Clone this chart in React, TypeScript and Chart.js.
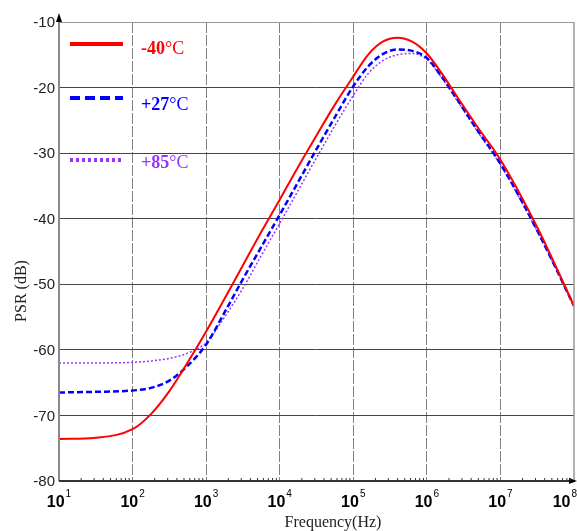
import React, { useEffect, useRef } from "react";
import { Chart, registerables } from "chart.js";

Chart.register(...registerables);

// log10 of frequency (Hz)
const logFreq = [1, 1.5, 2, 2.25, 2.5, 2.75, 3, 3.25, 3.5, 3.75, 4, 4.25, 4.5, 4.75, 5, 5.2, 5.4, 5.6, 5.8, 6, 6.2, 6.4, 6.7, 7, 7.5, 8];

const psrM40 = [-73.6, -73.4, -72.1, -69.8, -66.3, -61.9, -57.2, -52.2, -47.1, -42.0, -37.1, -32.1, -27.3, -22.6, -18.3, -15.0, -13.0, -12.4, -13.0, -14.8, -17.8, -21.2, -26.2, -31.0, -41.3, -53.3];
const psrP27 = [-66.5, -66.4, -66.2, -65.8, -64.7, -62.4, -59.2, -54.3, -49.2, -44.3, -39.4, -34.4, -29.4, -24.5, -19.8, -16.8, -14.9, -14.2, -14.4, -15.5, -18.3, -21.6, -26.7, -31.6, -41.8, -53.3];
const psrP85 = [-62.0, -62.0, -61.9, -61.7, -61.3, -60.5, -58.9, -55.0, -50.6, -45.6, -40.7, -35.7, -30.7, -25.8, -21.2, -17.9, -15.9, -15.0, -14.8, -15.7, -18.5, -21.8, -26.9, -31.8, -41.9, -53.3];

const seriesLabels = ["-40\u00b0C", "+27\u00b0C", "+85\u00b0C"];
const xTickExponents = [1, 2, 3, 4, 5, 6, 7, 8];
const yTicks = [-80, -70, -60, -50, -40, -30, -20, -10];

const RED = "#ff0000";
const BLUE = "#0000ff";
const PURPLE = "#9933ff";

const pts = (ys: number[]) => logFreq.map((x, i) => ({ x, y: ys[i] }));

const decorPlugin = {
  id: "decor",
  afterDraw(chart: any) {
    const ctx = chart.ctx as CanvasRenderingContext2D;
    const xs = chart.scales.x;
    const ys = chart.scales.y;
    const ca = chart.chartArea;
    ctx.save();

    // right border
    ctx.strokeStyle = "#999";
    ctx.lineWidth = 1.5;
    ctx.setLineDash([]);
    ctx.beginPath();
    ctx.moveTo(ca.right, ca.top);
    ctx.lineTo(ca.right, ca.bottom);
    ctx.stroke();

    // left axis
    ctx.strokeStyle = "#888";
    ctx.lineWidth = 2;
    ctx.beginPath();
    ctx.moveTo(ca.left, ca.bottom);
    ctx.lineTo(ca.left, ca.top - 6);
    ctx.stroke();
    ctx.fillStyle = "#000";
    ctx.beginPath();
    ctx.moveTo(ca.left, ca.top - 9);
    ctx.lineTo(ca.left - 3, ca.top);
    ctx.lineTo(ca.left + 3, ca.top);
    ctx.closePath();
    ctx.fill();

    // bottom axis
    ctx.strokeStyle = "#333";
    ctx.lineWidth = 2;
    ctx.beginPath();
    ctx.moveTo(ca.left, ca.bottom);
    ctx.lineTo(ca.right + 1, ca.bottom);
    ctx.stroke();
    ctx.fillStyle = "#000";
    ctx.beginPath();
    ctx.moveTo(ca.right + 3, ca.bottom);
    ctx.lineTo(ca.right - 5, ca.bottom - 3);
    ctx.lineTo(ca.right - 5, ca.bottom + 3);
    ctx.closePath();
    ctx.fill();
    // minor ticks
    ctx.strokeStyle = "#333";
    ctx.lineWidth = 1;
    for (let d = 1; d < 8; d++) {
      for (let m = 2; m <= 9; m++) {
        const px = xs.getPixelForValue(d + Math.log10(m));
        ctx.beginPath();
        ctx.moveTo(px, ca.bottom);
        ctx.lineTo(px, ca.bottom - 3);
        ctx.stroke();
      }
    }

    // y tick labels
    ctx.fillStyle = "#222";
    ctx.font = "15px 'Liberation Sans', Arial, sans-serif";
    ctx.textAlign = "right";
    ctx.textBaseline = "middle";
    yTicks.forEach((v) => {
      ctx.fillText(String(v), ca.left - 4, ys.getPixelForValue(v) + 1);
    });

    // x tick labels 10^n
    xTickExponents.forEach((e) => {
      const px = xs.getPixelForValue(e);
      ctx.font = "bold 16px 'Liberation Sans', Arial, sans-serif";
      const baseW = ctx.measureText("10").width;
      ctx.font = "10px 'Liberation Sans', Arial, sans-serif";
      const expW = ctx.measureText(String(e)).width;
      let start = px - (baseW + expW + 1) / 2;
      if (start + baseW + expW + 1 > 577) start = 577 - baseW - expW - 1;
      ctx.textAlign = "left";
      ctx.textBaseline = "alphabetic";
      ctx.fillStyle = "#000";
      ctx.font = "bold 16px 'Liberation Sans', Arial, sans-serif";
      ctx.fillText("10", start, ca.bottom + 26);
      ctx.font = "10px 'Liberation Sans', Arial, sans-serif";
      ctx.fillText(String(e), start + baseW + 1, ca.bottom + 16);
    });

    // axis titles
    ctx.fillStyle = "#222";
    ctx.font = "16px 'Liberation Serif', 'Times New Roman', serif";
    ctx.textAlign = "center";
    ctx.textBaseline = "alphabetic";
    ctx.fillText("Frequency(Hz)", 333, 527);
    ctx.save();
    ctx.translate(22, 291);
    ctx.rotate(-Math.PI / 2);
    ctx.textBaseline = "middle";
    ctx.fillText("PSR (dB)", 0, 0);
    ctx.restore();

    // legend
    const items = [
      { label: seriesLabels[0], color: RED, dash: [] as number[], y: 44, ty: 54 },
      { label: seriesLabels[1], color: BLUE, dash: [10, 5], y: 98, ty: 110 },
      { label: seriesLabels[2], color: PURPLE, dash: [3, 3], y: 160, ty: 168 },
    ];
    items.forEach((it) => {
      ctx.strokeStyle = it.color;
      ctx.lineWidth = 4;
      ctx.setLineDash(it.dash);
      ctx.beginPath();
      ctx.moveTo(70, it.y);
      ctx.lineTo(123, it.y);
      ctx.stroke();
      ctx.setLineDash([]);
      ctx.fillStyle = it.color;
      ctx.textAlign = "left";
      ctx.textBaseline = "alphabetic";
      const num = it.label.slice(0, 3);
      const rest = it.label.slice(3);
      ctx.font = "bold 18px 'Liberation Serif', 'Times New Roman', serif";
      ctx.fillText(num, 141, it.ty);
      const w = ctx.measureText(num).width;
      ctx.font = "18px 'Liberation Serif', 'Times New Roman', serif";
      ctx.fillText(rest, 141 + w, it.ty);
    });

    ctx.restore();
  },
};

export default function App() {
  const ref = useRef<HTMLCanvasElement | null>(null);
  useEffect(() => {
    document.body.style.margin = "0";
    if (!ref.current) return;
    const chart = new Chart(ref.current, {
      type: "line",
      data: {
        datasets: [
          {
            label: seriesLabels[0],
            data: pts(psrM40),
            borderColor: RED,
            borderWidth: 2,
            pointRadius: 0,
            cubicInterpolationMode: "monotone",
          },
          {
            label: seriesLabels[1],
            data: pts(psrP27),
            borderColor: BLUE,
            borderWidth: 2.5,
            borderDash: [6, 3],
            pointRadius: 0,
            cubicInterpolationMode: "monotone",
          },
          {
            label: seriesLabels[2],
            data: pts(psrP85),
            borderColor: PURPLE,
            borderWidth: 1.5,
            borderDash: [2, 2],
            pointRadius: 0,
            cubicInterpolationMode: "monotone",
          },
        ],
      },
      options: {
        responsive: false,
        animation: false,
        devicePixelRatio: 1,
        layout: { padding: { top: 22, right: 3, left: 0, bottom: 0 } },
        plugins: { legend: { display: false }, tooltip: { enabled: false } },
        scales: {
          x: {
            type: "linear",
            min: 1,
            max: 8,
            ticks: { display: false, stepSize: 1 },
            border: { display: false, dash: [11, 2] },
            grid: {
              drawTicks: false,
              lineWidth: 1,
              color: (c: any) =>
                c.tick && (c.tick.value === 1 || c.tick.value === 8) ? "rgba(0,0,0,0)" : "#808080",
            },
            afterFit: (s: any) => {
              s.height = 50;
            },
          },
          y: {
            type: "linear",
            min: -80,
            max: -10,
            ticks: { display: false, stepSize: 10 },
            border: { display: false },
            grid: {
              drawTicks: false,
              lineWidth: 1,
              color: (c: any) => {
                const v = c.tick ? c.tick.value : 0;
                if (v === -80) return "rgba(0,0,0,0)";
                if (v === -10) return "#999";
                return "#444";
              },
            },
            afterFit: (s: any) => {
              s.width = 59;
            },
          },
        },
      },
      plugins: [decorPlugin],
    });
    return () => chart.destroy();
  }, []);
  return (
    <div style={{ width: 577, height: 531 }}>
      <canvas ref={ref} width={577} height={531} />
    </div>
  );
}
